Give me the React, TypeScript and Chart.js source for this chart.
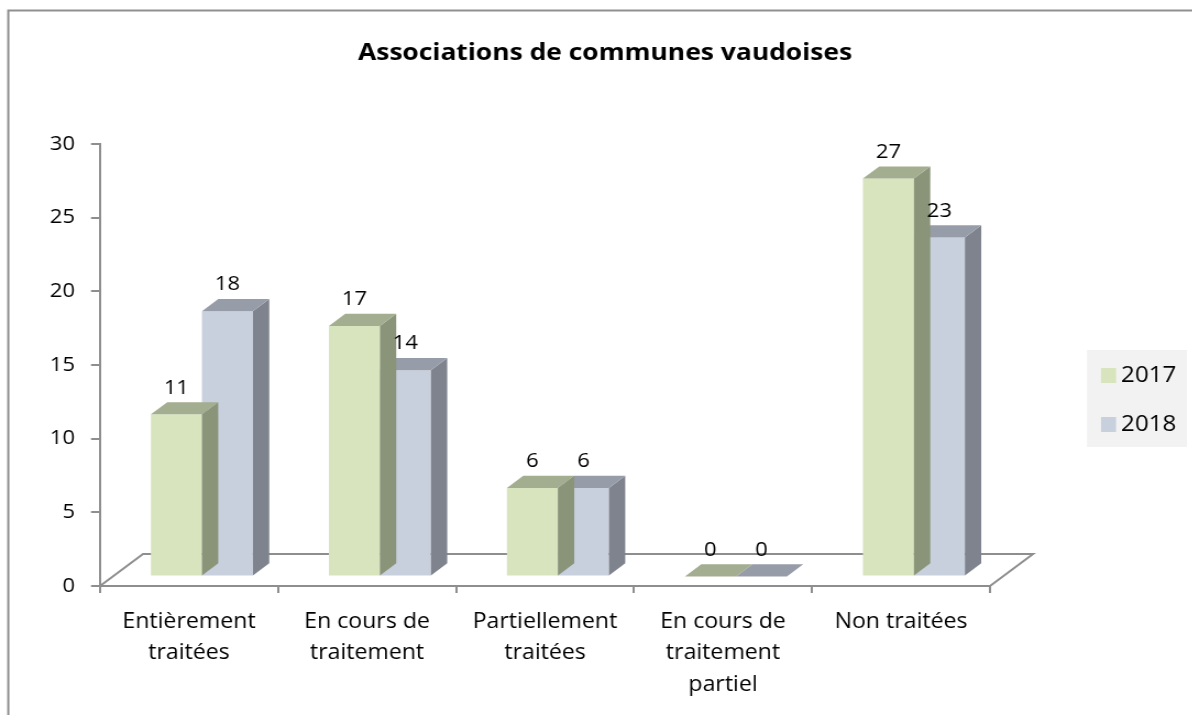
import { useEffect, useRef } from "react";
import { Chart, registerables } from "chart.js";

Chart.register(...registerables);

const chartTitle = "Associations de communes vaudoises";
const categories = [
  ["Entièrement", "traitées"],
  ["En cours de", "traitement"],
  ["Partiellement", "traitées"],
  ["En cours de", "traitement", "partiel"],
  ["Non traitées"],
];
const seriesLabels = ["2017", "2018"];
const values2017 = [11, 17, 6, 0, 27];
const values2018 = [18, 14, 6, 0, 23];
const yMin = 0;
const yMax = 30;
const yStep = 5;

const frontColors = ["#d7e4bd", "#c8cfdd"];
const topColors = ["#a3ad8f", "#979da8"];
const sideColors = ["#8a9478", "#7f838d"];

// horizontal stretch of the whole picture
const S = 1.1;
const CSS_W = 1210;
const W = Math.round(CSS_W / S);
const H = 715;

const FONT = "'Open Sans', 'Noto Sans', sans-serif";
const GRAY = "#8e8e8e";
const DEPTH_X = 43 / S;
const DEPTH_Y = -32;
const OFF = 0.3;
const BAR = 0.38;

const bar3d = {
  id: "bar3d",
  beforeDraw(chart: any) {
    const ctx = chart.ctx;
    ctx.save();
    ctx.strokeStyle = "#909090";
    ctx.lineWidth = 2;
    ctx.strokeRect(8.3 / S, 10.5, W, 800);
    ctx.restore();
  },
  beforeDatasetsDraw(chart: any) {
    const ctx = chart.ctx;
    const { left, right } = chart.chartArea;
    const y0 = chart.scales.y.getPixelForValue(0);
    ctx.save();
    ctx.strokeStyle = GRAY;
    ctx.lineWidth = 2;
    ctx.beginPath();
    ctx.moveTo(left, y0);
    ctx.lineTo(left + DEPTH_X, y0 + DEPTH_Y);
    ctx.lineTo(right + DEPTH_X, y0 + DEPTH_Y);
    ctx.lineTo(right, y0);
    ctx.stroke();
    ctx.restore();
    ctx.save();
    ctx.translate(OFF * DEPTH_X, OFF * DEPTH_Y);
  },
  afterDatasetDraw(chart: any, args: any) {
    const ctx = chart.ctx;
    const i = args.index;
    const meta = chart.getDatasetMeta(i);
    const dx = BAR * DEPTH_X;
    const dy = BAR * DEPTH_Y;
    meta.data.forEach((el: any) => {
      const { x, y, base, width } = el.getProps(["x", "y", "base", "width"], true);
      const x1 = x - width / 2;
      const x2 = x + width / 2;
      ctx.fillStyle = sideColors[i];
      ctx.beginPath();
      ctx.moveTo(x2, y);
      ctx.lineTo(x2 + dx, y + dy);
      ctx.lineTo(x2 + dx, base + dy);
      ctx.lineTo(x2, base);
      ctx.closePath();
      ctx.fill();
      ctx.fillStyle = topColors[i];
      ctx.beginPath();
      ctx.moveTo(x1, y);
      ctx.lineTo(x1 + dx, y + dy);
      ctx.lineTo(x2 + dx, y + dy);
      ctx.lineTo(x2, y);
      ctx.closePath();
      ctx.fill();
    });
  },
  afterDatasetsDraw(chart: any) {
    const ctx = chart.ctx;
    ctx.restore();
    ctx.save();
    ctx.fillStyle = "#000";
    ctx.font = `20px ${FONT}`;
    ctx.textAlign = "center";
    ctx.textBaseline = "middle";
    chart.data.datasets.forEach((ds: any, i: number) => {
      const meta = chart.getDatasetMeta(i);
      meta.data.forEach((el: any, j: number) => {
        const { x, y } = el.getProps(["x", "y"], true);
        ctx.fillText(String(ds.data[j]), x + OFF * DEPTH_X, y + OFF * DEPTH_Y - 26.5);
      });
    });
    ctx.restore();
  },
  afterDraw(chart: any) {
    const ctx = chart.ctx;
    ctx.save();
    // title
    ctx.fillStyle = "#000";
    ctx.font = `bold 24px ${FONT}`;
    ctx.textAlign = "center";
    ctx.textBaseline = "middle";
    ctx.fillText(chartTitle, 605 / S, 53);
    // legend
    ctx.fillStyle = "#f2f2f2";
    ctx.fillRect(1087 / S, 350, 100 / S, 97);
    ctx.font = `22px ${FONT}`;
    ctx.textAlign = "left";
    chart.data.datasets.forEach((ds: any, i: number) => {
      const cy = 375 + i * 49;
      ctx.fillStyle = ds.backgroundColor;
      ctx.fillRect(1101 / S, cy - 7, 15 / S, 15);
      ctx.fillStyle = "#000";
      ctx.fillText(ds.label, 1121 / S, cy + 1);
    });
    ctx.restore();
  },
};

export default function App() {
  const ref = useRef<HTMLCanvasElement | null>(null);
  useEffect(() => {
    if (!ref.current) return;
    const chart = new Chart(ref.current, {
      type: "bar",
      data: {
        labels: categories,
        datasets: [
          {
            label: seriesLabels[0],
            data: values2017,
            backgroundColor: frontColors[0],
            borderWidth: 0,
            clip: false,
          } as any,
          {
            label: seriesLabels[1],
            data: values2018,
            backgroundColor: frontColors[1],
            borderWidth: 0,
            clip: false,
          } as any,
        ],
      },
      options: {
        responsive: false,
        animation: false,
        devicePixelRatio: 1,
        layout: { padding: { top: 144, right: W - 990 / S, left: 0, bottom: 0 } },
        datasets: { bar: { categoryPercentage: 0.573, barPercentage: 1 } },
        plugins: {
          legend: { display: false },
          title: { display: false },
          tooltip: { enabled: false },
        },
        scales: {
          x: {
            afterFit: (s: any) => {
              s.height = 129;
            },
            grid: {
              offset: true,
              drawOnChartArea: false,
              drawTicks: true,
              tickLength: 7,
              color: GRAY,
              lineWidth: 2,
            },
            border: { display: true, color: GRAY, width: 2 },
            ticks: {
              color: "#000",
              font: { family: FONT, size: 21, lineHeight: 1.5 },
              padding: 13,
              maxRotation: 0,
              autoSkip: false,
            },
          },
          y: {
            min: yMin,
            max: yMax,
            afterFit: (s: any) => {
              s.width = 100 / S;
            },
            grid: {
              drawOnChartArea: false,
              drawTicks: true,
              tickLength: 9 / S,
              color: GRAY,
              lineWidth: 2,
            },
            border: { display: true, color: GRAY, width: 2 },
            ticks: {
              stepSize: yStep,
              color: "#000",
              font: { family: FONT, size: 20 },
              padding: 16 / S,
            },
          },
        },
      },
      plugins: [bar3d],
    });
    return () => chart.destroy();
  }, []);
  return (
    <div
      style={{
        position: "absolute",
        left: 0,
        top: 0,
        width: 1192,
        height: 715,
        overflow: "hidden",
        background: "#fff",
      }}
    >
      <canvas
        ref={ref}
        width={W}
        height={H}
        style={{ display: "block", width: CSS_W, height: H }}
      />
    </div>
  );
}
